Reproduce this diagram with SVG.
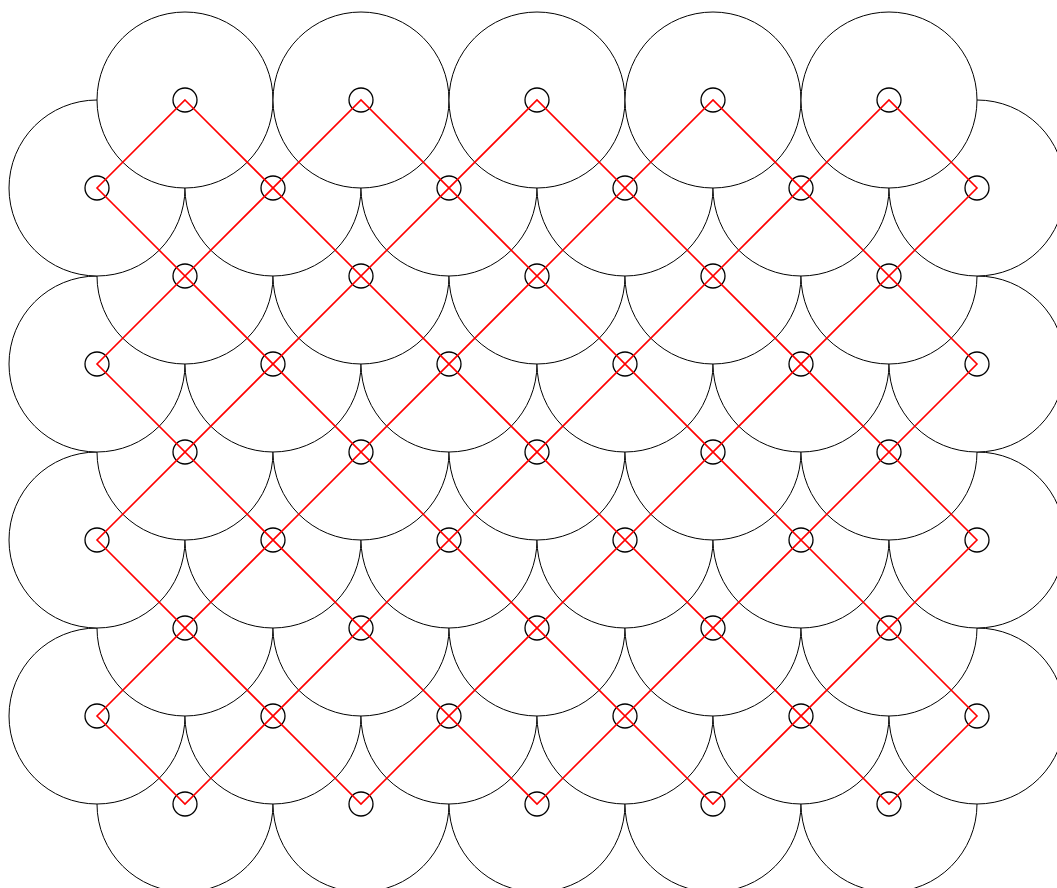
<svg xmlns="http://www.w3.org/2000/svg" width="1057" height="888" viewBox="0 0 1057 888">
<style>
.big{fill:#fff;stroke:#000;stroke-width:1}
.dot{fill:none;stroke:#000;stroke-width:1.3}
.link{fill:none;stroke:#f00;stroke-width:1.6;stroke-linejoin:miter}
</style>
<defs>
<g id="cell"><circle class="big" r="88"/><circle class="dot" r="12"/></g>
</defs>
<rect width="1057" height="888" fill="#fff"/>
<g id="row804">
<use id="n-185-804" href="#cell" x="185" y="804"/><use id="n-361-804" href="#cell" x="361" y="804"/><use id="n-537-804" href="#cell" x="537" y="804"/><use id="n-713-804" href="#cell" x="713" y="804"/><use id="n-889-804" href="#cell" x="889" y="804"/>
</g>
<g id="row716">
<use id="n-97-716" href="#cell" x="97" y="716"/><use id="n-273-716" href="#cell" x="273" y="716"/><use id="n-449-716" href="#cell" x="449" y="716"/><use id="n-625-716" href="#cell" x="625" y="716"/><use id="n-801-716" href="#cell" x="801" y="716"/><use id="n-977-716" href="#cell" x="977" y="716"/>
</g>
<g id="row628">
<use id="n-185-628" href="#cell" x="185" y="628"/><use id="n-361-628" href="#cell" x="361" y="628"/><use id="n-537-628" href="#cell" x="537" y="628"/><use id="n-713-628" href="#cell" x="713" y="628"/><use id="n-889-628" href="#cell" x="889" y="628"/>
</g>
<g id="row540">
<use id="n-97-540" href="#cell" x="97" y="540"/><use id="n-273-540" href="#cell" x="273" y="540"/><use id="n-449-540" href="#cell" x="449" y="540"/><use id="n-625-540" href="#cell" x="625" y="540"/><use id="n-801-540" href="#cell" x="801" y="540"/><use id="n-977-540" href="#cell" x="977" y="540"/>
</g>
<g id="row452">
<use id="n-185-452" href="#cell" x="185" y="452"/><use id="n-361-452" href="#cell" x="361" y="452"/><use id="n-537-452" href="#cell" x="537" y="452"/><use id="n-713-452" href="#cell" x="713" y="452"/><use id="n-889-452" href="#cell" x="889" y="452"/>
</g>
<g id="row364">
<use id="n-97-364" href="#cell" x="97" y="364"/><use id="n-273-364" href="#cell" x="273" y="364"/><use id="n-449-364" href="#cell" x="449" y="364"/><use id="n-625-364" href="#cell" x="625" y="364"/><use id="n-801-364" href="#cell" x="801" y="364"/><use id="n-977-364" href="#cell" x="977" y="364"/>
</g>
<g id="row276">
<use id="n-185-276" href="#cell" x="185" y="276"/><use id="n-361-276" href="#cell" x="361" y="276"/><use id="n-537-276" href="#cell" x="537" y="276"/><use id="n-713-276" href="#cell" x="713" y="276"/><use id="n-889-276" href="#cell" x="889" y="276"/>
</g>
<g id="row188">
<use id="n-97-188" href="#cell" x="97" y="188"/><use id="n-273-188" href="#cell" x="273" y="188"/><use id="n-449-188" href="#cell" x="449" y="188"/><use id="n-625-188" href="#cell" x="625" y="188"/><use id="n-801-188" href="#cell" x="801" y="188"/><use id="n-977-188" href="#cell" x="977" y="188"/>
</g>
<g id="row100">
<use id="n-185-100" href="#cell" x="185" y="100"/><use id="n-361-100" href="#cell" x="361" y="100"/><use id="n-537-100" href="#cell" x="537" y="100"/><use id="n-713-100" href="#cell" x="713" y="100"/><use id="n-889-100" href="#cell" x="889" y="100"/>
</g>
<g id="connectors">
<path class="link" d="M185,100 L889,804 L977,716 L361,100 L97,364 L537,804 L977,364 L713,100 L97,716 L185,804 L889,100 L977,188 L361,804 L97,540 L537,100 L977,540 L713,804 L97,188 Z"/>
</g>
</svg>
